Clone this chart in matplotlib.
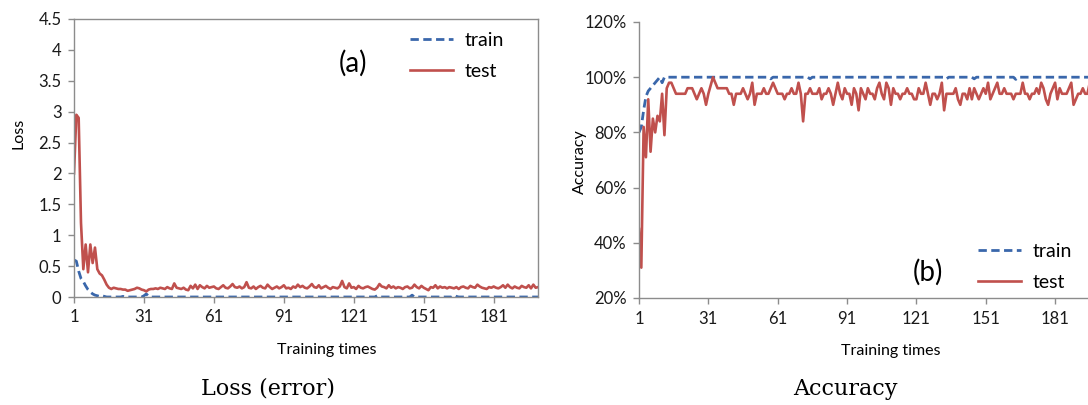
import numpy as np
import matplotlib
matplotlib.use('Agg')
import matplotlib.pyplot as plt
from matplotlib.ticker import FuncFormatter

# training iterations 1..200
epochs = list(range(1, 201))
xtick_vals = [1, 31, 61, 91, 121, 151, 181]

# (a) loss
train_loss = [
    0.60, 0.58, 0.42, 0.30, 0.25, 0.18, 0.12, 0.08, 0.05, 0.03, 0.02, 0.01, 0.02, 0.01, 0.00, 0.00, 0.00, 0.00, 0.00, 0.00,
    0.00, 0.01, 0.00, 0.00, 0.00, 0.00, 0.00, 0.00, 0.00, 0.00, 0.02, 0.05, 0.01, 0.00, 0.00, 0.00, 0.00, 0.00, 0.00, 0.00,
    0.00, 0.00, 0.00, 0.00, 0.00, 0.00, 0.00, 0.00, 0.00, 0.00, 0.00, 0.00, 0.00, 0.00, 0.00, 0.00, 0.00, 0.00, 0.00, 0.00,
    0.00, 0.00, 0.00, 0.00, 0.00, 0.00, 0.00, 0.00, 0.00, 0.00, 0.00, 0.00, 0.00, 0.00, 0.00, 0.00, 0.00, 0.00, 0.00, 0.00,
    0.00, 0.00, 0.00, 0.00, 0.00, 0.00, 0.00, 0.00, 0.00, 0.00, 0.00, 0.00, 0.00, 0.00, 0.00, 0.00, 0.00, 0.00, 0.00, 0.00,
    0.00, 0.00, 0.00, 0.00, 0.00, 0.00, 0.00, 0.00, 0.00, 0.00, 0.00, 0.00, 0.00, 0.00, 0.00, 0.00, 0.00, 0.00, 0.00, 0.00,
    0.00, 0.00, 0.00, 0.00, 0.00, 0.00, 0.00, 0.00, 0.00, 0.00, 0.02, 0.00, 0.00, 0.00, 0.00, 0.00, 0.00, 0.00, 0.00, 0.00,
    0.00, 0.00, 0.00, 0.00, 0.00, 0.03, 0.00, 0.00, 0.00, 0.00, 0.00, 0.00, 0.00, 0.00, 0.00, 0.00, 0.00, 0.00, 0.00, 0.00,
    0.00, 0.00, 0.00, 0.03, 0.01, 0.00, 0.00, 0.00, 0.00, 0.00, 0.00, 0.00, 0.00, 0.00, 0.00, 0.00, 0.00, 0.00, 0.00, 0.00,
    0.00, 0.00, 0.00, 0.00, 0.00, 0.00, 0.00, 0.00, 0.00, 0.00, 0.00, 0.00, 0.00, 0.00, 0.00, 0.00, 0.00, 0.00, 0.00, 0.00,
]
test_loss = [
    2.00, 2.95, 2.90, 1.20, 0.45, 0.85, 0.40, 0.85, 0.55, 0.80, 0.45, 0.38, 0.35, 0.28, 0.20, 0.15, 0.13, 0.15, 0.14, 0.13,
    0.13, 0.12, 0.12, 0.10, 0.11, 0.12, 0.13, 0.15, 0.14, 0.12, 0.11, 0.09, 0.12, 0.13, 0.13, 0.14, 0.13, 0.15, 0.14, 0.13,
    0.16, 0.14, 0.13, 0.22, 0.15, 0.14, 0.13, 0.15, 0.12, 0.11, 0.18, 0.14, 0.20, 0.13, 0.19, 0.16, 0.14, 0.18, 0.15, 0.16,
    0.17, 0.14, 0.13, 0.16, 0.19, 0.15, 0.14, 0.17, 0.21, 0.16, 0.15, 0.17, 0.14, 0.16, 0.24, 0.15, 0.14, 0.17, 0.13, 0.16,
    0.18, 0.15, 0.14, 0.20, 0.16, 0.13, 0.15, 0.17, 0.14, 0.16, 0.19, 0.14, 0.15, 0.13, 0.17, 0.15, 0.20, 0.16, 0.18, 0.15,
    0.14, 0.17, 0.21, 0.16, 0.15, 0.19, 0.14, 0.16, 0.18, 0.15, 0.13, 0.16, 0.15, 0.14, 0.17, 0.26, 0.16, 0.14, 0.22, 0.15,
    0.16, 0.13, 0.18, 0.15, 0.14, 0.16, 0.17, 0.15, 0.13, 0.12, 0.15, 0.21, 0.17, 0.16, 0.14, 0.19, 0.15, 0.17, 0.14, 0.16,
    0.15, 0.13, 0.16, 0.17, 0.14, 0.15, 0.20, 0.16, 0.14, 0.18, 0.15, 0.13, 0.11, 0.16, 0.15, 0.19, 0.14, 0.17, 0.15, 0.16,
    0.14, 0.16, 0.15, 0.14, 0.16, 0.13, 0.16, 0.17, 0.15, 0.14, 0.18, 0.16, 0.15, 0.20, 0.17, 0.15, 0.14, 0.13, 0.16, 0.15,
    0.17, 0.15, 0.14, 0.16, 0.19, 0.15, 0.20, 0.16, 0.14, 0.17, 0.15, 0.14, 0.18, 0.16, 0.15, 0.19, 0.14, 0.20, 0.15, 0.16,
]

# (b) accuracy, in percent
train_acc = [
    80, 82, 88, 93, 95, 96, 97, 98, 99, 100, 98, 100, 100, 100, 100, 100, 100, 100, 100, 100,
    100, 100, 100, 100, 100, 100, 100, 100, 100, 100, 100, 100, 100, 100, 100, 100, 100, 100, 100, 100,
    100, 100, 100, 100, 100, 100, 100, 100, 100, 100, 100, 100, 100, 100, 100, 100, 100, 99.4, 100, 100,
    100, 100, 100, 100, 100, 100, 100, 100, 100, 100, 100, 100, 100, 100, 99.4, 100, 100, 100, 100, 100,
    100, 100, 100, 100, 100, 100, 100, 100, 100, 100, 100, 100, 100, 100, 100, 100, 100, 100, 100, 100,
    100, 100, 100, 100, 100, 100, 100, 100, 100, 100, 100, 100, 100, 100, 100, 100, 100, 100, 100, 100,
    100, 100, 100, 100, 100, 100, 100, 100, 100, 100, 100, 100, 100, 99.4, 100, 100, 100, 100, 100, 100,
    100, 100, 100, 100, 100, 99.4, 100, 100, 100, 100, 100, 100, 100, 100, 100, 100, 100, 100, 100, 100,
    100, 100, 100, 99.2, 100, 100, 100, 100, 100, 100, 100, 100, 100, 100, 100, 100, 100, 100, 100, 100,
    100, 100, 100, 100, 100, 100, 100, 100, 100, 100, 100, 100, 100, 100, 100, 100, 100, 100, 100, 100,
]
test_acc = [
    45, 31, 82, 71, 92, 73, 85, 80, 86, 84, 94, 79, 96, 98, 98, 96, 94, 94, 94, 94,
    94, 96, 96, 96, 94, 92, 94, 96, 94, 90, 94, 97, 100, 98, 96, 96, 96, 96, 96, 94,
    94, 90, 94, 94, 94, 96, 94, 92, 94, 98, 90, 94, 94, 94, 96, 94, 94, 96, 98, 96,
    94, 94, 94, 92, 94, 94, 96, 94, 94, 98, 94, 84, 94, 94, 96, 94, 94, 94, 96, 92,
    94, 94, 96, 94, 90, 94, 98, 94, 92, 96, 94, 94, 90, 96, 94, 88, 96, 94, 92, 96,
    94, 94, 92, 96, 98, 94, 92, 98, 96, 90, 96, 94, 94, 92, 94, 94, 96, 94, 94, 92,
    92, 96, 94, 94, 98, 94, 90, 94, 94, 92, 94, 98, 88, 94, 94, 94, 94, 96, 92, 90,
    94, 94, 92, 96, 92, 96, 94, 92, 94, 96, 94, 98, 92, 94, 96, 98, 94, 94, 96, 94,
    94, 94, 92, 94, 94, 94, 98, 94, 94, 92, 94, 94, 96, 94, 98, 96, 92, 90, 94, 96,
    98, 92, 96, 94, 94, 94, 96, 98, 90, 92, 94, 94, 96, 94, 94, 98, 92, 90, 94, 92,
]

blue = '#3A67AB'
red = '#C0504D'
axis_gray = '#8C8C8C'
plt.rcParams['font.family'] = ['Lato', 'DejaVu Sans']

fig = plt.figure(figsize=(10.88, 4.05), dpi=100)

ax1 = fig.add_axes([74 / 1088, 1 - 297 / 405, 464 / 1088, 278 / 405])
ax2 = fig.add_axes([639 / 1088, 1 - 298 / 405, 460 / 1088, 276 / 405])


def style_axes(ax):
    for s in ax.spines.values():
        s.set_color(axis_gray)
        s.set_linewidth(1.0)
    ax.tick_params(axis='both', direction='out', length=4, width=1,
                   color=axis_gray, labelsize=12, labelcolor='#1a1a1a', pad=5)
    ax.set_xlim(1, 200)
    ax.set_xticks(xtick_vals)
    ax.set_xlabel('Training times', fontsize=11.5)


# --- (a) loss ---
ax1.plot(epochs, train_loss, color=blue, lw=2.0, ls=(0, (3, 1.6)), label='train')
ax1.plot(epochs, test_loss, color=red, lw=1.9, label='test')
ax1.set_ylim(0, 4.5)
ax1.set_yticks(np.arange(0, 4.51, 0.5))
ax1.yaxis.set_major_formatter(FuncFormatter(lambda v, p: '%g' % v))
ax1.set_ylabel('Loss', fontsize=11.5)
style_axes(ax1)
ax1.xaxis.set_label_coords(0.545, -0.165)
ax1.yaxis.set_label_coords(-0.104, 0.59)
ax1.legend(loc='center left', bbox_to_anchor=(410 / 1088, 1 - 56 / 405),
           bbox_transform=fig.transFigure, frameon=False, fontsize=14,
           handlelength=2.2, handletextpad=0.6, labelspacing=0.7,
           borderpad=0, borderaxespad=0)
fig.text(353 / 1088, 1 - 63 / 405, '(a)', fontsize=20, ha='center', va='center')

# --- (b) accuracy ---
ax2.plot(epochs, train_acc, color=blue, lw=2.0, ls=(0, (3, 1.6)), label='train')
ax2.plot(epochs, test_acc, color=red, lw=1.9, label='test')
ax2.set_ylim(20, 120)
ax2.set_yticks([20, 40, 60, 80, 100, 120])
ax2.yaxis.set_major_formatter(FuncFormatter(lambda v, p: '%d%%' % v))
ax2.set_ylabel('Accuracy', fontsize=11.5)
style_axes(ax2)
ax2.spines['top'].set_visible(False)
ax2.spines['right'].set_visible(False)
ax2.xaxis.set_label_coords((891 - 639) / 460, -0.165)
ax2.yaxis.set_label_coords(-0.113, 0.493)
ax2.legend(loc='center left', bbox_to_anchor=(978 / 1088, 1 - 267 / 405),
           bbox_transform=fig.transFigure, frameon=False, fontsize=14,
           handlelength=2.2, handletextpad=0.6, labelspacing=0.7,
           borderpad=0, borderaxespad=0)
fig.text(928 / 1088, 1 - 272 / 405, '(b)', fontsize=20, ha='center', va='center')

# captions under each panel
fig.text(268 / 1088, 1 - 389 / 405, 'Loss (error)', fontsize=16,
         family='DejaVu Serif', ha='center', va='center')
fig.text(845 / 1088, 1 - 389 / 405, 'Accuracy', fontsize=16,
         family='DejaVu Serif', ha='center', va='center')

fig.savefig('out.png', dpi=100)
